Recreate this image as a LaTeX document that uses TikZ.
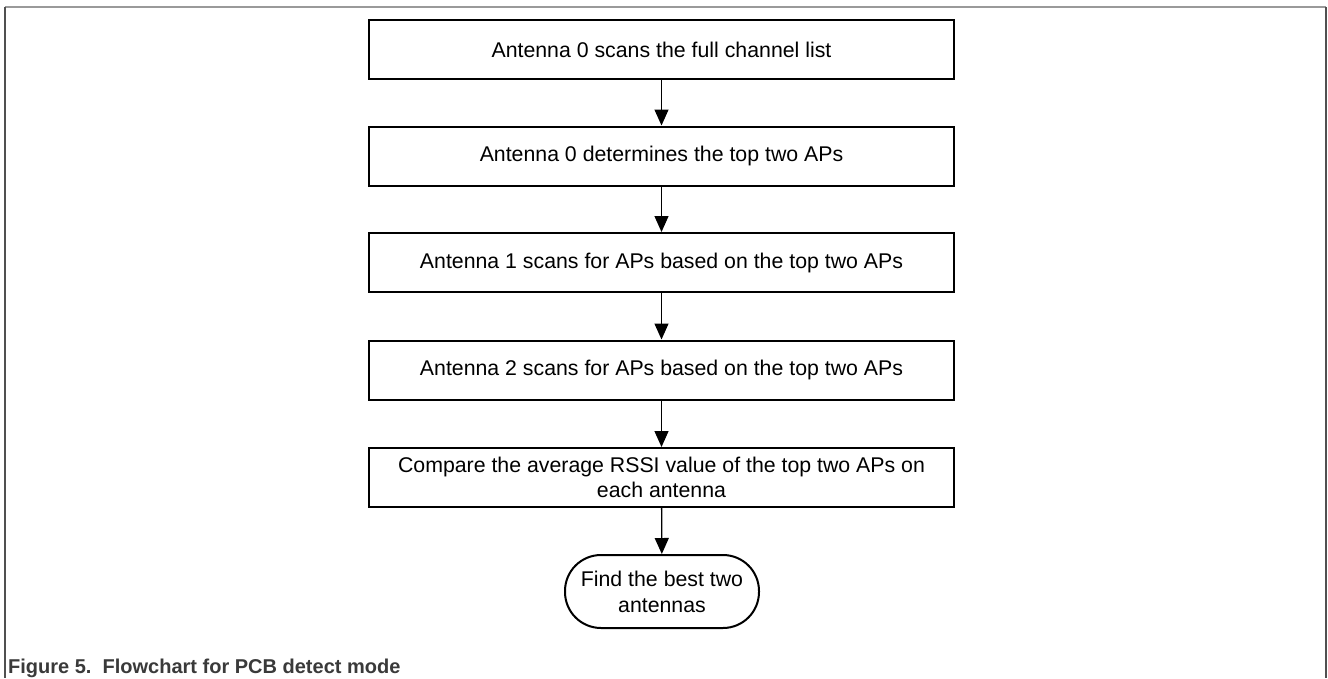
\documentclass[tikz,border=0pt]{standalone}
\usepackage{fontspec}
\setmainfont{Liberation Sans}
\usetikzlibrary{arrows.meta}
\definecolor{framegray}{HTML}{9A9A9A}
\definecolor{sidegray}{HTML}{505050}
\definecolor{capgray}{HTML}{3A3A3A}
\begin{document}
\begin{tikzpicture}[x=1pt,y=-1pt,
  stepbox/.style={draw=black,line width=2pt,minimum width=585pt,minimum height=59pt,inner sep=0pt,align=center,font=\fontsize{21.3pt}{25pt}\selectfont},
  termbox/.style={draw=black,line width=2pt,minimum width=194pt,minimum height=73pt,inner sep=0pt,rounded corners=36pt,align=center,font=\fontsize{21.3pt}{26pt}\selectfont},
  flow/.style={line width=1.3pt,-{Triangle[width=14pt,length=16pt]}}]
\useasboundingbox (0,0) rectangle (1328,678);
\fill[white] (0,0) rectangle (1328,678);
% frame
\draw[framegray,line width=1.3pt] (5,7) -- (1326,7);
\draw[sidegray,line width=1.3pt] (5,7) -- (5,678);
\draw[sidegray,line width=1.3pt] (1326,7) -- (1326,678);
% nodes
\node[stepbox] (s1) at (661.5,49.5) {Antenna 0 scans the full channel list};
\node[stepbox] (s2) at (661.5,156) {Antenna 0 determines the top two APs};
\node[stepbox] (s3) at (661.5,262.5) {Antenna 1 scans for APs based on the top two APs};
\node[stepbox] (s4) at (661.5,370) {Antenna 2 scans for APs based on the top two APs};
\node[stepbox] (s5) at (661.5,477.5) {Compare the average RSSI value of the top two APs on\\each antenna};
\node[termbox] (t) at (662,591.5) {Find the best two\\antennas};
% connectors
\draw[flow] (s1) -- (s2);
\draw[flow] (s2) -- (s3);
\draw[flow] (s3) -- (s4);
\draw[flow] (s4) -- (s5);
\draw[flow] (s5) -- (t);
% caption
\node[anchor=base west,inner sep=0pt,text=capgray,font=\fontsize{20pt}{24pt}\selectfont\bfseries] (cap) at (8,673) {Figure 5.\ \ Flowchart for PCB detect mode};
\end{tikzpicture}
\end{document}
